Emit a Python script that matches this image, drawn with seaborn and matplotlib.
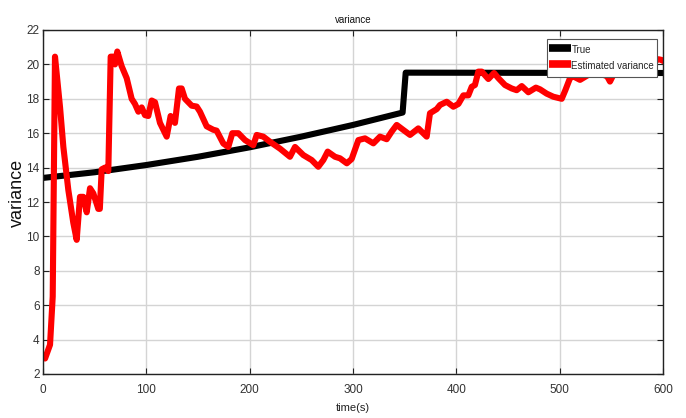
import numpy as np
import pandas as pd
import matplotlib
matplotlib.use("Agg")
import matplotlib.pyplot as plt
import seaborn as sns

# ---- data ----
true_t = [0, 50, 100, 150, 200, 250, 300, 348, 351, 600]
true_v = [13.4, 13.73, 14.15, 14.63, 15.18, 15.8, 16.48, 17.2, 19.52, 19.5]

est_t = [2, 6.8, 9.4, 11.6, 16.5, 19.7, 24.5, 29.3, 32.6, 35.8, 39, 42.3, 45.5, 48.7,
         53.5, 55, 56.8, 60, 63.2, 65.5, 68, 69.7, 71.9, 76.1, 81, 85.8, 89, 92.3,
         95.5, 98.7, 101.9, 105.2, 108.4, 113.2, 119.7, 123.5, 127.7, 131.6, 134.2,
         137.4, 143.9, 148.7, 151.9, 158.4, 164.8, 168, 174.5, 179.3, 183.2, 189,
         195.5, 203.5, 206.8, 213.2, 219.7, 229.4, 239, 243.9, 251.9, 260, 266.4,
         271.3, 275.5, 282.6, 287.4, 294, 298.7, 305.2, 311.6, 319.7, 326.1, 332.6,
         337.4, 342.3, 348.7, 355.2, 363.2, 371.3, 374.5, 381, 384.2, 390.7, 397.1,
         402, 406.8, 411.6, 414.9, 418, 421.3, 424.6, 431, 436.5, 440.7, 447.1,
         453.6, 458.4, 463.3, 469.7, 477, 481, 487.4, 493.9, 502, 505.5, 510, 513.3,
         519.7, 528, 539, 546, 548.7, 552, 560, 575, 590, 595.5, 598.7, 600]
est_v = [2.9, 3.7, 6.5, 20.45, 17.5, 15.2, 12.7, 10.8, 9.8, 12.3, 12.3, 11.4, 12.8, 12.5,
         11.6, 11.6, 13.9, 14.0, 13.8, 20.45, 20.45, 20.0, 20.75, 19.9, 19.2, 18.0, 17.7,
         17.25, 17.5, 17.05, 17.0, 17.9, 17.8, 16.6, 15.8, 17.0, 16.6, 18.6, 18.6,
         18.0, 17.6, 17.55, 17.25, 16.4, 16.2, 16.15, 15.4, 15.2, 16.0, 16.0,
         15.6, 15.3, 15.9, 15.8, 15.5, 15.1, 14.63, 15.2, 14.73, 14.44, 14.05,
         14.44, 14.93, 14.63, 14.54, 14.25, 14.5, 15.6, 15.7, 15.41, 15.8, 15.65,
         16.09, 16.48, 16.19, 15.9, 16.28, 15.8, 17.16, 17.4, 17.64, 17.83, 17.54,
         17.7, 18.2, 18.2, 18.7, 18.8, 19.58, 19.58, 19.15, 19.5, 19.2, 18.8,
         18.6, 18.5, 18.74, 18.38, 18.65, 18.55, 18.3, 18.12, 18.0, 18.5, 19.2, 19.3,
         19.1, 19.4, 19.48, 19.3, 19.0, 19.4, 19.7, 19.9, 20.1, 20.3, 20.26, 20.2]

x_ticks = [0, 100, 200, 300, 400, 500, 600]
y_ticks = [2, 4, 6, 8, 10, 12, 14, 16, 18, 20, 22]
series_names = ["True", "Estimated variance"]

sns.set_theme(style="whitegrid")
plt.rcParams['font.family'] = ['Liberation Sans', 'DejaVu Sans']

fig = plt.figure(figsize=(6.86, 4.18), dpi=100)
ax = fig.add_axes([43/686, 1-374/418, (663-43)/686, (374-30)/418])

df_true = pd.DataFrame({"t": true_t, "v": true_v})
df_est = pd.DataFrame({"t": est_t, "v": est_v})

sns.lineplot(data=df_true, x="t", y="v", ax=ax, color="#000000", linewidth=4.4,
             sort=False, estimator=None, label=series_names[0])
sns.lineplot(data=df_est, x="t", y="v", ax=ax, color="#ff0000", linewidth=4.4,
             sort=False, estimator=None, label=series_names[1])
for ln in ax.lines:
    ln.set_solid_joinstyle("round")
    ln.set_clip_on(True)

ax.set_xlim(0, 600)
ax.set_ylim(2, 22)
ax.set_xticks(x_ticks)
ax.set_yticks(y_ticks)
ax.grid(True, color="#d4d4d4", linewidth=1.0)
ax.set_facecolor("white")
for s in ax.spines.values():
    s.set_color("#222222")
    s.set_linewidth(1.0)
ax.tick_params(direction="in", length=4, width=0.8, colors="#222222",
               labelsize=8.5, top=True, right=True, bottom=True, left=True)
ax.tick_params(axis="x", labelcolor="#333333", pad=7.5)
ax.tick_params(axis="y", labelcolor="#333333", pad=2.5)

ax.set_title("variance", fontsize=7, color="#111111", pad=5)
ax.set_xlabel("time(s)", fontsize=8, color="#222222", labelpad=5)
ax.set_ylabel("variance", fontsize=13, color="#111111")
ax.yaxis.set_label_coords(-0.028, 0.527)

leg = ax.legend(loc="upper right", bbox_to_anchor=(1 - 6/620, 1 - 9/344),
                fontsize=7, frameon=True, fancybox=False, framealpha=1,
                edgecolor="#555555", handlelength=2.2, handleheight=2.2,
                handletextpad=0.05, labelspacing=0.0, borderpad=0.3,
                borderaxespad=0)
leg.get_frame().set_linewidth(0.8)
for h in leg.get_lines():
    h.set_linewidth(5.5)
    h.set_solid_capstyle("butt")

fig.savefig("out.png", dpi=100)
